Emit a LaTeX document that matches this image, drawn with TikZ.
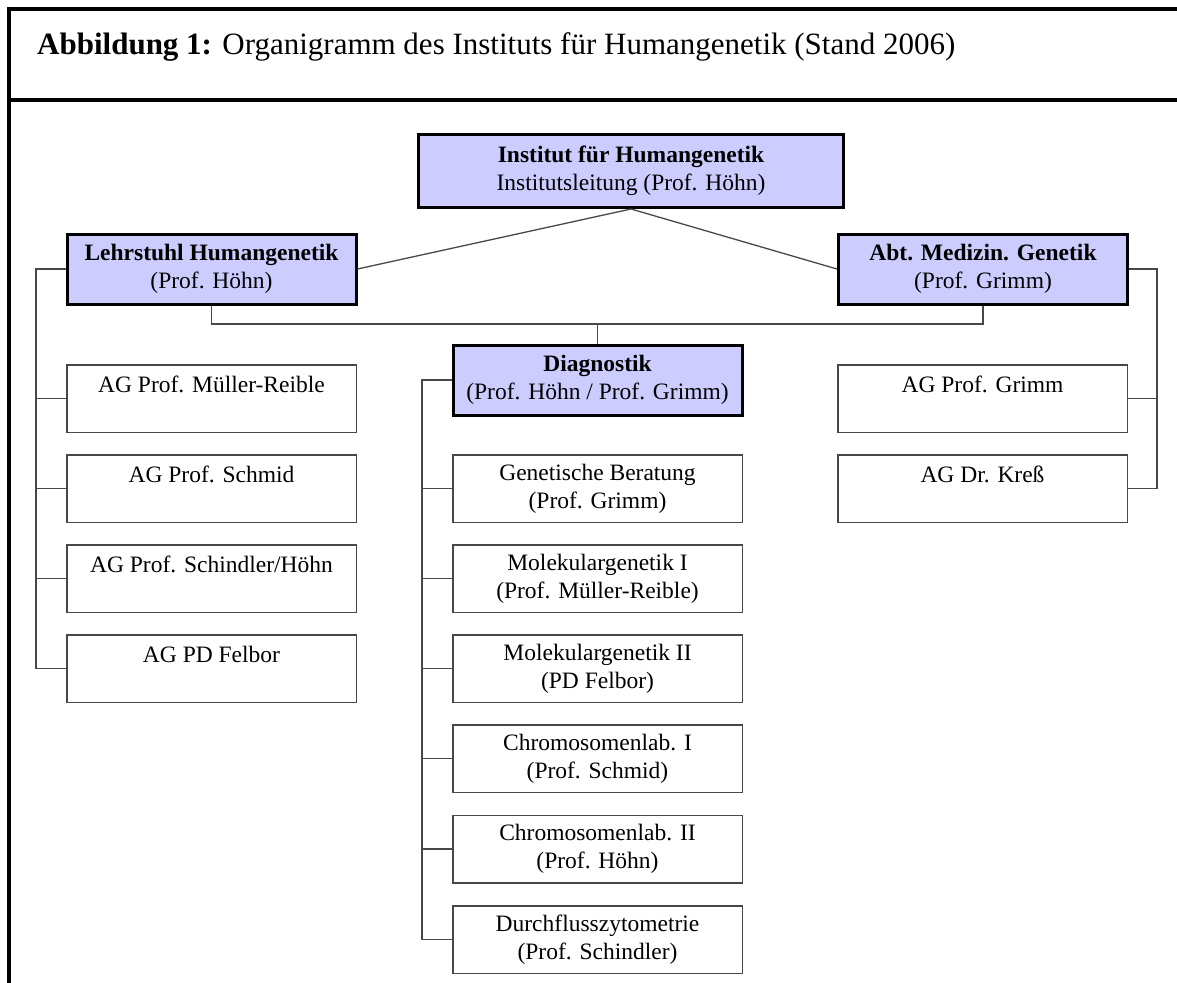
\documentclass[tikz,border=0pt]{standalone}
\usepackage{fontspec}
\setmainfont{Liberation Serif}
\usetikzlibrary{positioning}
\definecolor{headfill}{RGB}{204,204,255}
\definecolor{edgecol}{RGB}{72,72,72}

\tikzset{
  headbox/.style={draw=black, line width=3pt, fill=headfill, minimum width=289pt,
    minimum height=70pt, align=center, inner sep=0pt,
    font=\fontsize{23.5}{28}\selectfont},
  unitbox/.style={draw=edgecol, line width=1.5pt, fill=white, minimum width=289.5pt,
    minimum height=67.5pt, align=center, inner sep=0pt,
    font=\fontsize{23.5}{28}\selectfont},
  wire/.style={draw=edgecol, line width=1.3pt}
}

\begin{document}
\begin{tikzpicture}[x=1pt, y=-1pt]
  \useasboundingbox (0,0) rectangle (1177,982);

  % frame and caption
  \draw[line width=4pt] (9,1000) -- (9,9) -- (1190,9);
  \draw[line width=3.5pt] (9,100) -- (1190,100);
  \node[anchor=base west, inner sep=0pt, font=\fontsize{31}{36}\selectfont] (title) at (37,55)
    {\textbf{Abbildung 1:} Organigramm des Instituts für Humangenetik (Stand 2006)};

  % head units
  \node[headbox, minimum width=425pt, minimum height=73pt] (inst) at (631,171)
    {\textbf{Institut für Humangenetik}\\Institutsleitung (Prof. Höhn)};
  \node[headbox] (lehr) at (211.5,269) {\textbf{Lehrstuhl Humangenetik}\\(Prof. Höhn)};
  \node[headbox] (abt) at (983,269) {\textbf{Abt. Medizin. Genetik}\\(Prof. Grimm)};
  \node[headbox] (diag) at (597.5,380) {\textbf{Diagnostik}\\(Prof. Höhn / Prof. Grimm)};

  % Lehrstuhl groups
  \node[unitbox] (lag1) at (211.5,398.5) {AG Prof. Müller-Reible\\\mbox{}};
  \node[unitbox] (lag2) at (211.5,488.5) {AG Prof. Schmid\\\mbox{}};
  \node[unitbox] (lag3) at (211.5,578.5) {AG Prof. Schindler/Höhn\\\mbox{}};
  \node[unitbox] (lag4) at (211.5,668.5) {AG PD Felbor\\\mbox{}};

  % Diagnostik labs
  \node[unitbox] (dlab1) at (597.5,488.5) {Genetische Beratung\\(Prof. Grimm)};
  \node[unitbox] (dlab2) at (597.5,578.5) {Molekulargenetik I\\(Prof. Müller-Reible)};
  \node[unitbox] (dlab3) at (597.5,668.5) {Molekulargenetik II\\(PD Felbor)};
  \node[unitbox] (dlab4) at (597.5,758.5) {Chromosomenlab. I\\(Prof. Schmid)};
  \node[unitbox] (dlab5) at (597.5,849) {Chromosomenlab. II\\(Prof. Höhn)};
  \node[unitbox] (dlab6) at (597.5,939.5) {Durchflusszytometrie\\(Prof. Schindler)};

  % Abteilung groups
  \node[unitbox] (rag1) at (982.5,398.5) {AG Prof. Grimm\\\mbox{}};
  \node[unitbox] (rag2) at (982.5,488.5) {AG Dr. Kreß\\\mbox{}};

  % connectors
  \coordinate (bar) at (0,324);
  \coordinate (lsp) at (36,0);
  \coordinate (dsp) at (422,0);
  \coordinate (rsp) at (1157,0);
  \draw[wire] (lehr.east) -- (inst.south) -- (abt.west);
  \draw[wire] (lehr.south) -- (lehr.south |- bar) -- (abt.south |- bar) -- (abt.south);
  \draw[wire] (diag.north) -- (diag.north |- bar);

  \draw[wire] (lehr.west) -- (lehr.west -| lsp) -- (lag4.west -| lsp);
  \foreach \i in {1,...,4}
    \draw[wire] (lag\i.west) -- (lag\i.west -| lsp);

  \draw[wire] (diag.west) -- (diag.west -| dsp) -- (dlab6.west -| dsp);
  \foreach \i in {1,...,6}
    \draw[wire] (dlab\i.west) -- (dlab\i.west -| dsp);

  \draw[wire] (abt.east) -- (abt.east -| rsp) -- (rag2.east -| rsp);
  \foreach \i in {1,2}
    \draw[wire] (rag\i.east) -- (rag\i.east -| rsp);
\end{tikzpicture}
\end{document}
